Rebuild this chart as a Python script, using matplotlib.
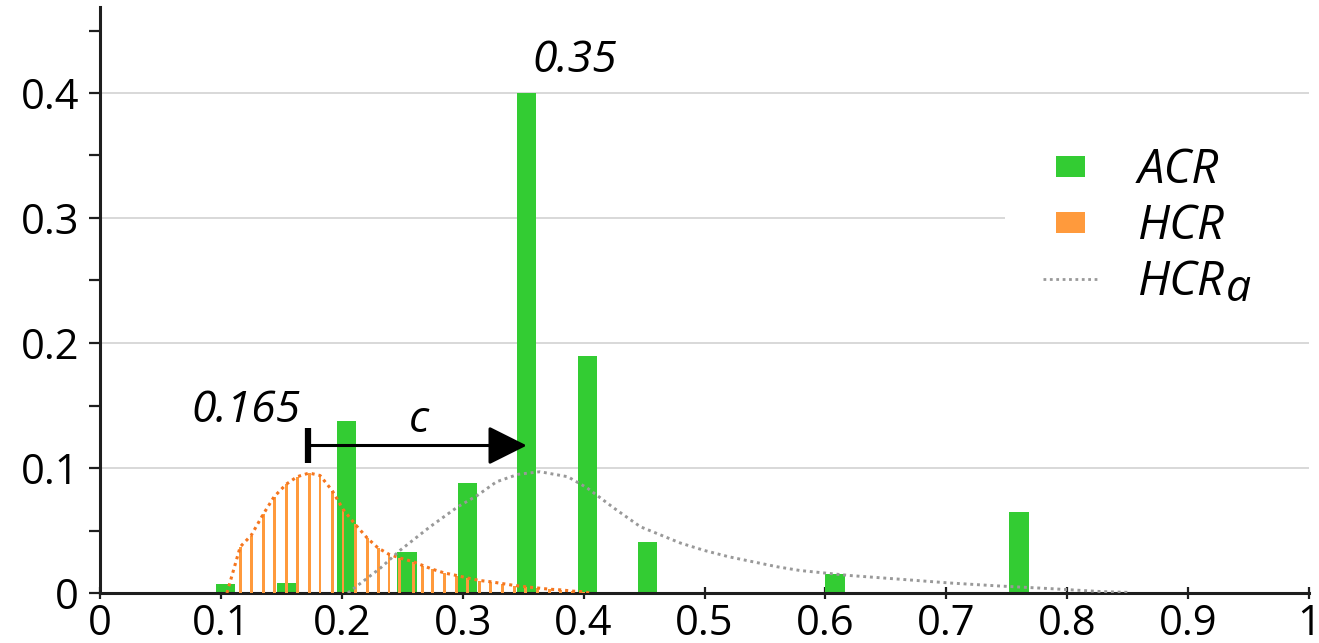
import matplotlib
matplotlib.use('Agg')
import matplotlib.pyplot as plt
from matplotlib.patches import Rectangle
from matplotlib.lines import Line2D
from matplotlib.legend_handler import HandlerPatch
from matplotlib.ticker import MultipleLocator, FuncFormatter
from matplotlib.transforms import IdentityTransform

plt.rcParams['font.family'] = ['Open Sans', 'DejaVu Sans']

# ---- data ----
ACR_x = [0.104, 0.154, 0.204, 0.254, 0.304, 0.353, 0.403, 0.453, 0.608, 0.760]
ACR_y = [0.007, 0.008, 0.138, 0.033, 0.088, 0.400, 0.190, 0.041, 0.015, 0.065]

HCR_x = [0.116, 0.125, 0.135, 0.144, 0.154, 0.163, 0.173, 0.182, 0.192, 0.201,
         0.211, 0.221, 0.230, 0.239, 0.248, 0.259, 0.267, 0.275, 0.285, 0.295,
         0.304, 0.314, 0.323, 0.333, 0.343, 0.352, 0.362, 0.372, 0.381, 0.391, 0.400]
HCR_y = [0.037, 0.046, 0.063, 0.077, 0.087, 0.093, 0.096, 0.094, 0.082, 0.067,
         0.055, 0.044, 0.036, 0.031, 0.028, 0.025, 0.022, 0.019, 0.016, 0.014,
         0.012, 0.010, 0.009, 0.0075, 0.006, 0.005, 0.004, 0.003, 0.0025, 0.0015, 0.001]
HCR_start = (0.105, 0.0)
HCR_end = (0.405, 0.0)

HCRa_x = [0.205, 0.232, 0.248, 0.273, 0.296, 0.312, 0.328, 0.346, 0.364, 0.387,
          0.403, 0.425, 0.447, 0.480, 0.500, 0.520, 0.540, 0.560, 0.579, 0.620,
          0.662, 0.703, 0.744, 0.786, 0.827, 0.850]
HCRa_y = [0.000, 0.020, 0.034, 0.053, 0.069, 0.078, 0.089, 0.095, 0.097, 0.093,
          0.084, 0.068, 0.053, 0.040, 0.034, 0.029, 0.025, 0.021, 0.018, 0.014,
          0.011, 0.008, 0.0056, 0.0035, 0.0012, 0.0005]

labels = ['ACR', 'HCR', 'HCR']
label_sub = 'a'
peak_hcr_label = '0.165'
peak_acr_label = '0.35'
shift_label = 'c'

GREEN = '#33cc33'
ORANGE = '#ff9a3c'
ORANGE_DOT = '#f5761f'
GREY = '#999999'
AX = '#1e1e1e'

fig = plt.figure(figsize=(13.19, 6.43), dpi=100)
ax = fig.add_axes([100 / 1319, 50 / 643, 1209 / 1319, 586 / 643])
ax.set_xlim(0, 1.0)
ax.set_ylim(0, 0.4688)

ax.yaxis.grid(True, which='major', color='#d6d6d6', lw=1.3)
ax.set_axisbelow(True)

for s in ('top', 'right'):
    ax.spines[s].set_visible(False)
for s in ('left', 'bottom'):
    ax.spines[s].set_linewidth(2.2)
    ax.spines[s].set_color(AX)

ax.xaxis.set_major_locator(MultipleLocator(0.1))
ax.yaxis.set_major_locator(MultipleLocator(0.1))
ax.yaxis.set_minor_locator(MultipleLocator(0.05))
fmt = FuncFormatter(lambda v, p: '%g' % round(v, 3))
ax.xaxis.set_major_formatter(fmt)
ax.yaxis.set_major_formatter(fmt)
ax.tick_params(axis='y', which='both', direction='out', length=8, width=1.6,
               color=AX, pad=7, labelsize=30)
ax.tick_params(axis='x', which='both', direction='inout', length=8, width=1.6,
               color=AX, pad=3, labelsize=30)

# white area behind the legend (hides the grid line there)
ax.add_patch(Rectangle((1005, 643 - 312), 320, 180, transform=IdentityTransform(),
                       fc='white', ec='none', zorder=1, clip_on=False))

# bars
ax.bar(ACR_x, ACR_y, width=0.016, color=GREEN, zorder=2)
ax.bar(HCR_x, HCR_y, width=0.0024, color=ORANGE, zorder=3)

# curves
cx = [HCR_start[0]] + HCR_x + [HCR_end[0]]
cy = [HCR_start[1]] + HCR_y + [HCR_end[1]]
ax.plot(cx, cy, color=ORANGE_DOT, lw=2.2, ls=(0, (1, 1.3)), zorder=4)
ax.plot(HCRa_x, HCRa_y, color=GREY, lw=2.1, ls=(0, (1, 1.3)), zorder=4)

# annotations
arrow_y = 0.118
x_from, x_to = 0.172, 0.353
ax.annotate('', xy=(x_to, arrow_y), xytext=(x_from, arrow_y),
            arrowprops=dict(arrowstyle='-|>,head_length=1.2,head_width=0.6',
                            mutation_scale=20, lw=2.2, color='black',
                            shrinkA=0, shrinkB=0), zorder=6)
ax.plot([x_from, x_from], [0.104, 0.132], color='black', lw=4.5,
        solid_capstyle='butt', zorder=6)
ax.text(0.076, 0.137, peak_hcr_label, fontsize=32, style='italic', ha='left',
        va='baseline', zorder=6)
ax.text(0.358, 0.417, peak_acr_label, fontsize=32, style='italic', ha='left',
        va='baseline', zorder=6)
ax.text(0.264, 0.129, shift_label, fontsize=32, style='italic', ha='center',
        va='baseline', zorder=6)


def make_rect(legend, orig_handle, xdescent, ydescent, width, height, fontsize):
    w, h = 21, 15
    return Rectangle((-xdescent + (width - w) / 2, -ydescent + (height - h) / 2), w, h)


handles = [Rectangle((0, 0), 1, 1, fc=GREEN, ec='none'),
           Rectangle((0, 0), 1, 1, fc=ORANGE, ec='none'),
           Line2D([], [], color=GREY, lw=2.0, ls=(0, (1, 1.3)))]
leg = ax.legend(handles, labels,
                handler_map={Rectangle: HandlerPatch(patch_func=make_rect)},
                prop={'style': 'italic', 'size': 34},
                frameon=False, loc='upper left',
                bbox_to_anchor=(1019 / 1319, 1 - 123 / 643),
                bbox_transform=fig.transFigure, borderaxespad=0,
                handlelength=1.18, handletextpad=0.83, labelspacing=0.18,
                borderpad=0.5)
leg.set_zorder(7)

fig.canvas.draw()
t = leg.get_texts()[2]
bb = t.get_window_extent()
base = t.get_transform().transform(t.get_position())
fig.text(bb.x1 + 1, base[1] - 6, label_sub, fontsize=32, style='italic',
         ha='left', va='baseline', transform=IdentityTransform(), zorder=8)

fig.savefig('out.png', dpi=100)
